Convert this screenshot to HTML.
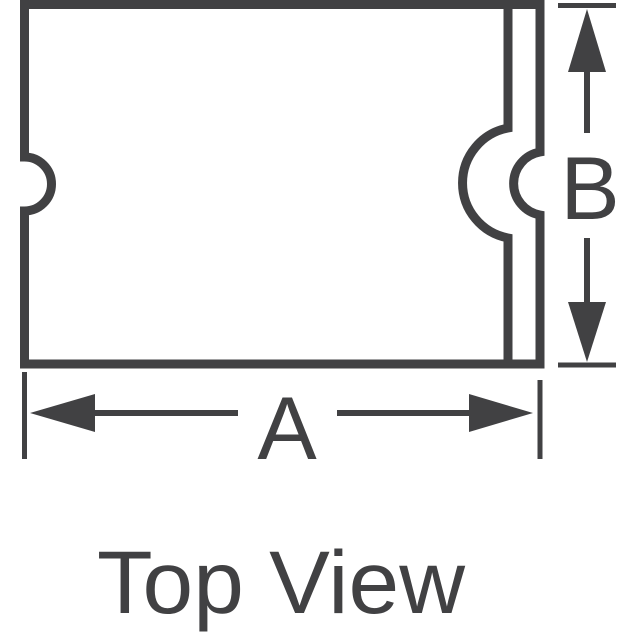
<!DOCTYPE html>
<html><head><meta charset="utf-8"><style>
html,body{margin:0;padding:0;background:#fff;width:640px;height:640px;overflow:hidden}
svg{display:block}
</style></head><body>
<svg width="640" height="640" viewBox="0 0 640 640" xmlns="http://www.w3.org/2000/svg">
<g fill="none" stroke="#414143" stroke-width="9">
  <!-- outer body -->
  <path d="M24.5,157 V4.5 H540 V152 A32,32 0 0 0 540,215 V364 H24.5 V211 A27,27 0 0 0 24.5,157 Z"/>
  <!-- inner line -->
  <path d="M508,4.5 V128 A56,56 0 0 0 508,238 V364"/>
</g>
<g stroke="#414143" fill="#414143">
  <!-- B dimension -->
  <line x1="558" y1="5.5" x2="616" y2="5.5" stroke-width="5"/>
  <line x1="558" y1="365" x2="616" y2="365" stroke-width="5"/>
  <line x1="587" y1="70" x2="587" y2="133" stroke-width="6"/>
  <line x1="587" y1="238" x2="587" y2="304" stroke-width="6"/>
  <polygon points="587,9 568,72 606,72" stroke="none"/>
  <polygon points="587,362 568,302 606,302" stroke="none"/>
  <!-- A dimension -->
  <line x1="24.5" y1="372" x2="24.5" y2="459" stroke-width="5"/>
  <line x1="540" y1="380" x2="540" y2="459" stroke-width="5"/>
  <line x1="93" y1="413" x2="238" y2="413" stroke-width="6"/>
  <line x1="337" y1="413" x2="472" y2="413" stroke-width="6"/>
  <polygon points="30,413 95,394 95,432" stroke="none"/>
  <polygon points="533,413 469,394 469,432" stroke="none"/>
</g>
<g fill="#414143" font-family="'Liberation Sans', sans-serif">
  <text x="590" y="219" font-size="89" text-anchor="middle">B</text>
  <text x="287" y="459" font-size="89" text-anchor="middle">A</text>
  <text x="97" y="613" font-size="89" textLength="368" lengthAdjust="spacingAndGlyphs">Top View</text>
</g>
</svg>
</body></html>
